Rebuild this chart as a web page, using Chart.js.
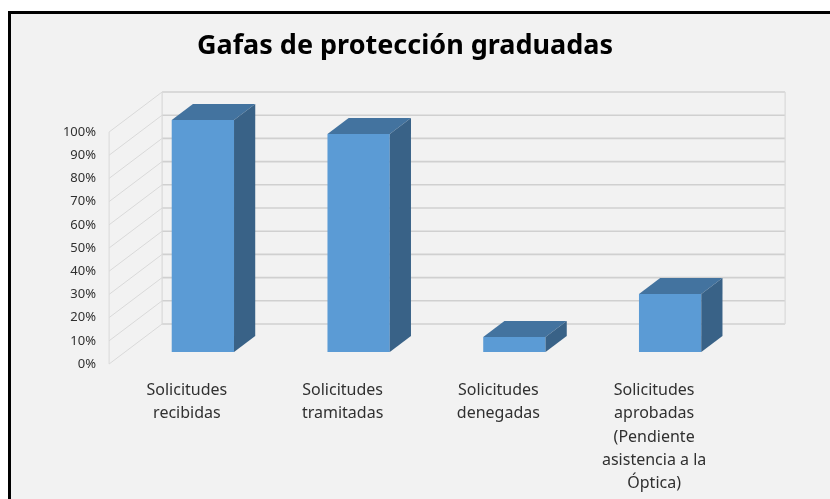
<!DOCTYPE html>
<html>

<head>
    <meta charset="UTF-8">
    <title>Gafas de protección graduadas</title>
    <script src="https://cdn.jsdelivr.net/npm/chart.js"></script>
    <style>
        body { margin: 0; background: #fff; }
        #frame {
            position: absolute; left: 8px; top: 11px; width: 840px; height: 520px;
            border: 3px solid #000; background: #f2f2f2;
        }
        #chart { position: absolute; left: 0; top: 0; }
    </style>
</head>

<body>
    <div id="frame"></div>
    <canvas id="chart" width="810" height="499"></canvas>

    <script>
        const titleText = "Gafas de protección graduadas";
        const categories = [
            ["Solicitudes", "recibidas"],
            ["Solicitudes", "tramitadas"],
            ["Solicitudes", "denegadas"],
            ["Solicitudes", "aprobadas", "(Pendiente", "asistencia a la", "Óptica)"]
        ];
        const shares = [1.0, 0.94, 0.065, 0.25];

        // fake 3D: full depth of the box, bars sit between 0.3 and 0.7 of it
        const DX = 53, DY = 40;
        const BAR_FRONT = 0.3, BAR_BACK = 0.7;

        const walls3d = {
            id: "walls3d",
            beforeDatasetsDraw(chart) {
                const ctx = chart.ctx;
                const y = chart.scales.y;
                const L = chart.chartArea.left, R = chart.chartArea.right;
                const fl = L - BAR_FRONT * DX;
                const bl = L + (1 - BAR_FRONT) * DX;
                const br = R + (1 - BAR_FRONT) * DX;
                const top = y.getPixelForValue(y.max), bottom = y.getPixelForValue(0);

                ctx.save();
                // left wall
                ctx.strokeStyle = "#d9d9d9";
                ctx.lineWidth = 1;
                y.ticks.forEach(t => {
                    const p = y.getPixelForValue(t.value);
                    ctx.beginPath();
                    ctx.moveTo(fl, p + BAR_FRONT * DY);
                    ctx.lineTo(bl, p - (1 - BAR_FRONT) * DY);
                    ctx.stroke();
                });
                ctx.beginPath();
                ctx.moveTo(fl, top + BAR_FRONT * DY);
                ctx.lineTo(fl, bottom + BAR_FRONT * DY);
                ctx.stroke();

                // back wall
                ctx.strokeStyle = "#d0d0d0";
                ctx.lineWidth = 1.6;
                y.ticks.forEach(t => {
                    const p = y.getPixelForValue(t.value) - (1 - BAR_FRONT) * DY;
                    ctx.beginPath();
                    ctx.moveTo(bl, p);
                    ctx.lineTo(br, p);
                    ctx.stroke();
                });
                ctx.strokeStyle = "#d9d9d9";
                ctx.lineWidth = 1.2;
                [bl, br].forEach(x => {
                    ctx.beginPath();
                    ctx.moveTo(x, top - (1 - BAR_FRONT) * DY);
                    ctx.lineTo(x, bottom - (1 - BAR_FRONT) * DY);
                    ctx.stroke();
                });
                ctx.restore();
            },
            afterDatasetsDraw(chart) {
                const ctx = chart.ctx;
                const ddx = (BAR_BACK - BAR_FRONT) * DX;
                const ddy = (BAR_BACK - BAR_FRONT) * DY;
                chart.getDatasetMeta(0).data.forEach(bar => {
                    const { x, y, base, width } = bar.getProps(["x", "y", "base", "width"], true);
                    const l = x - width / 2, r = x + width / 2;

                    ctx.fillStyle = "#43739f";
                    ctx.beginPath();
                    ctx.moveTo(l, y);
                    ctx.lineTo(r, y);
                    ctx.lineTo(r + ddx, y - ddy);
                    ctx.lineTo(l + ddx, y - ddy);
                    ctx.closePath();
                    ctx.fill();

                    ctx.fillStyle = "#396287";
                    ctx.beginPath();
                    ctx.moveTo(r, y);
                    ctx.lineTo(r + ddx, y - ddy);
                    ctx.lineTo(r + ddx, base - ddy);
                    ctx.lineTo(r, base);
                    ctx.closePath();
                    ctx.fill();
                });
            }
        };

        new Chart(document.getElementById("chart"), {
            type: "bar",
            data: {
                labels: categories,
                datasets: [{
                    data: shares,
                    backgroundColor: "#5b9bd5",
                    borderWidth: 0,
                    barPercentage: 0.4,
                    categoryPercentage: 1
                }]
            },
            options: {
                responsive: false,
                animation: false,
                scales: {
                    x: {
                        grid: { display: false, drawTicks: false },
                        border: { display: false },
                        ticks: {
                            color: "#303030",
                            font: { family: "Noto Sans", size: 16, lineHeight: 1.45 },
                            padding: 27,
                            labelOffset: -16,
                            maxRotation: 0,
                            autoSkip: false
                        },
                        afterFit: s => { s.height = 147; }
                    },
                    y: {
                        min: 0,
                        max: 1,
                        grid: { display: false, drawTicks: false },
                        border: { display: false },
                        ticks: {
                            stepSize: 0.1,
                            color: "#303030",
                            font: { family: "Noto Sans", size: 13 },
                            padding: 29,
                            labelOffset: 12,
                            callback: v => Math.round(v * 100) + "%"
                        },
                        afterFit: s => { s.width = 125; }
                    },
                    // empty axis on the right, only reserves room for the back wall
                    spacer: {
                        position: "right",
                        min: 0,
                        max: 1,
                        grid: { display: false, drawTicks: false },
                        border: { display: false },
                        ticks: { display: false },
                        afterFit: s => { s.width = 62; }
                    }
                },
                plugins: {
                    legend: { display: false },
                    tooltip: { enabled: false },
                    title: {
                        display: true,
                        text: titleText,
                        color: "#000",
                        font: { family: "Noto Sans", size: 27, weight: "bold", lineHeight: 1.2 },
                        padding: { top: 30, bottom: 57.6 }
                    }
                }
            },
            plugins: [walls3d]
        });
    </script>
</body>

</html>
